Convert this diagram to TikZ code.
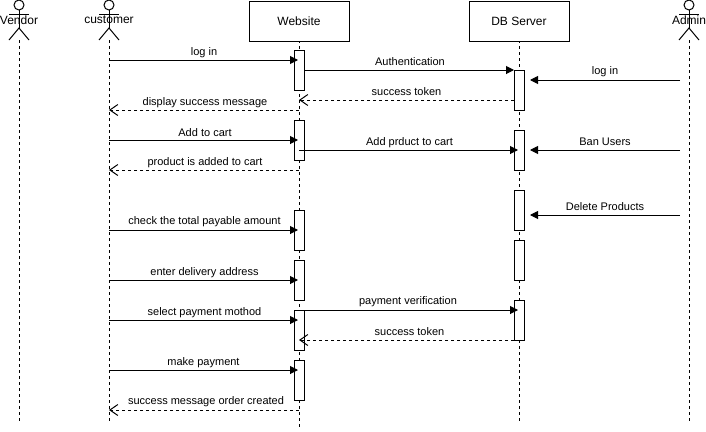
\documentclass[tikz,border=0pt]{standalone}
\usepackage{fontspec}
\setmainfont{Liberation Sans}
\usetikzlibrary{arrows.meta}
\tikzset{
  x=1pt,y=-1pt,
  every node/.style={font=\fontsize{11}{13}\selectfont,inner sep=0pt,text=black},
  headbox/.style={draw=black,line width=1pt,fill=white,minimum width=100pt,minimum height=40pt,anchor=north,font=\fontsize{12}{14}\selectfont},
  actorname/.style={font=\fontsize{12}{14}\selectfont},
  activation/.style={draw=black,line width=1pt,fill=white,minimum width=10pt,anchor=north},
  lifeline/.style={draw=black,line width=1pt,dash pattern=on 3pt off 3pt},
  actorline/.style={draw=black,line width=1pt},
  call/.style={draw=black,line width=1pt,-{Triangle[length=8pt,width=8pt]}},
  reply/.style={draw=black,line width=1pt,dash pattern=on 3pt off 3pt,-{Straight Barb[length=8pt,width=11pt]}},
}
\newcommand{\actorfig}[3]{%
  \draw[actorline] (#1,5) circle[radius=5];
  \draw[actorline] (#1-10,14) -- (#1+10,14);
  \draw[actorline] (#1,10) -- (#1,28);
  \draw[actorline] (#1-10,40) -- (#1,28) -- (#1+10,40);
  \node[actorname] (#2) at (#1,20) {#3};
}
\newcommand{\actbox}[3]{\node[activation,minimum height=#3 pt] (#1) at #2 {};}
\begin{document}
\begin{tikzpicture}
\useasboundingbox (0,0) rectangle (706,431);
\fill[white] (0,0) rectangle (706,431);
% lifeline anchors
\coordinate (v) at (19,0);
\coordinate (c) at (109,0);
\coordinate (w) at (299,0);
\coordinate (d) at (519,0);
\coordinate (a) at (689,0);
\coordinate (vend) at (19,421);
\coordinate (cend) at (109,421);
\coordinate (wend) at (299,428);
\coordinate (dend) at (519,421);
\coordinate (aend) at (689,421);
\coordinate (al) at (680,0);
\coordinate (dr) at (530,0);
\coordinate (wr) at (304,0);
\coordinate (wl) at (294,0);
\coordinate (dl) at (514,0);
\coordinate (wtip) at (298,0);
\coordinate (dtip) at (518,0);
% lifelines
\draw[lifeline] (v |- 0,40) -- (vend);
\draw[lifeline] (c |- 0,40) -- (cend);
\draw[lifeline] (w |- 0,40) -- (wend);
\draw[lifeline] (d |- 0,40) -- (dend);
\draw[lifeline] (a |- 0,40) -- (aend);
% actors and heads
\actorfig{19}{vendor}{Vendor}
\actorfig{109}{customer}{customer}
\actorfig{689}{admin}{Admin}
\node[headbox] (website) at (299,0.5) {Website};
\node[headbox] (dbserver) at (519,0.5) {DB Server};
% activations
\actbox{wa}{(299,50)}{40}
\actbox{wb}{(299,120)}{40}
\actbox{wc}{(299,210)}{40}
\actbox{wd}{(299,260)}{40}
\actbox{we}{(299,310)}{40}
\actbox{wf}{(299,360)}{40}
\actbox{da}{(519,70)}{40}
\actbox{db}{(519,130)}{40}
\actbox{dc}{(519,190)}{40}
\actbox{dd}{(519,240)}{40}
\actbox{de}{(519,300)}{40}
% messages
\draw[call] (c |- 0,60) -- node[above=2pt,xshift=0.5pt] {log in} (wtip |- 0,60);
\draw[call] (wr |- 0,70) -- node[above=4pt,xshift=1pt] {Authentication} (dl |- 0,70);
\draw[reply] (dl |- 0,100) -- node[above=4pt] {success token} (w |- 0,100);
\draw[reply] (w |- 0,110) -- node[above=2pt,xshift=1pt] {display success message} (c |- 0,110);
\draw[call] (c |- 0,140) -- node[above=3pt,xshift=1.5pt] {Add to cart} (wtip |- 0,140);
\draw[call] (w |- 0,150) -- node[above=2pt,xshift=1pt] {Add prduct to cart} (dtip |- 0,150);
\draw[reply] (w |- 0,170) -- node[above=2pt,xshift=1pt] {product is added to cart} (c |- 0,170);
\draw[call] (c |- 0,230) -- node[above=3pt,xshift=1pt] {check the total payable amount} (wtip |- 0,230);
\draw[call] (c |- 0,280) -- node[above=2pt,xshift=1pt] {enter delivery address} (wtip |- 0,280);
\draw[call] (c |- 0,320) -- node[above=2pt,xshift=1pt] {select payment mothod} (wtip |- 0,320);
\draw[call] (wr |- 0,310) -- node[above=3pt,xshift=-3pt] {payment verification} (dtip |- 0,310);
\draw[reply] (dl |- 0,340) -- node[above=4pt,xshift=3pt] {success token} (w |- 0,340);
\draw[call] (c |- 0,370) -- node[above=2pt] {make payment} (wtip |- 0,370);
\draw[reply] (w |- 0,410) -- node[above=2.5pt,xshift=2pt] {success message order created} (c |- 0,410);
\draw[call] (al |- 0,80) -- node[above=3pt] {log in} (dr |- 0,80);
\draw[call] (al |- 0,150) -- node[above=4pt] {Ban Users} (dr |- 0,150);
\draw[call] (al |- 0,215) -- node[above=4pt] {Delete Products} (dr |- 0,215);
\end{tikzpicture}
\end{document}
